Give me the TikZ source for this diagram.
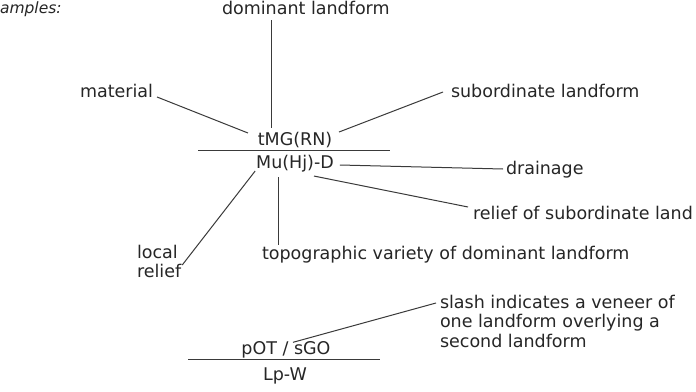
\documentclass[tikz,border=0pt]{standalone}
\usepackage{fontspec}
\setmainfont{DejaVu Sans}
\definecolor{ink}{HTML}{262626}
\definecolor{wire}{HTML}{3A3A3A}
\begin{document}
\begin{tikzpicture}[x=1pt,y=-1pt,
  lbl/.style={inner sep=0pt,outer sep=0pt,text=ink,font=\fontsize{17.5}{19.5}\selectfont},
  wirestyle/.style={draw=wire,line width=1pt},
  bar/.style={draw=wire,line width=1pt}]
\useasboundingbox[fill=white] (0,0) rectangle (696,391);

% labels
\node[lbl,anchor=base west,font=\fontsize{15.5}{18}\selectfont\itshape] (ex) at (0,13) {amples:};
\node[lbl,anchor=base west] (dom) at (222,14) {dominant landform};
\node[lbl,anchor=base west] (mat) at (80,97) {material};
\node[lbl,anchor=base west] (sub) at (451,97) {subordinate landform};
\node[lbl,anchor=base] (top) at (295,145) {tMG(RN)};
\node[lbl,anchor=base] (bot) at (295,168) {Mu(Hj)-D};
\node[lbl,anchor=base west] (dra) at (506,174) {drainage};
\node[lbl,anchor=base west] (rel) at (473,219) {relief of subordinate land};
\node[lbl,anchor=north west,align=left] (loc) at (137,245) {local\\relief};
\node[lbl,anchor=base west] (topo) at (262,259) {topographic variety of dominant landform};
\node[lbl,anchor=base] (pot) at (286,354) {pOT / sGO};
\node[lbl,anchor=base] (lpw) at (285,380) {Lp-W};
\node[lbl,anchor=north west,align=left] (sl) at (440,294.7) {slash indicates a veneer of\\one landform overlying a\\second landform};

% fraction bars
\draw[bar] ([shift={(-97,3.5)}]top.south) -- ([shift={(95,3.5)}]top.south);
\draw[bar] ([shift={(-98,1.5)}]pot.south) -- ([shift={(94,1.5)}]pot.south);

% connectors
\draw[wirestyle] ([shift={(49,6)}]dom.south west) -- ([shift={(-24,-3.7)}]top.north);
\draw[wirestyle] ([shift={(4,0)}]mat.base east) -- ([shift={(-9.8,-6.5)}]top.west);
\draw[wirestyle] ([shift={(6.8,-7.5)}]top.east) -- ([shift={(-8,-5)}]sub.base west);
\draw[wirestyle] ([shift={(6,-3)}]bot.base east) -- ([shift={(-3,-5)}]dra.base west);
\draw[wirestyle] ([shift={(19,4.4)}]bot.south) -- ([shift={(-5,-12)}]rel.base west);
\draw[wirestyle] ([shift={(-1,3)}]bot.base west) -- ([shift={(1,20)}]loc.north east);
\draw[wirestyle] ([shift={(-17,5.5)}]bot.south) -- ([shift={(16,-1)}]topo.north west);
\draw[wirestyle] ([shift={(7,1.3)}]pot.north) -- ([shift={(-4,8.3)}]sl.north west);
\end{tikzpicture}
\end{document}
